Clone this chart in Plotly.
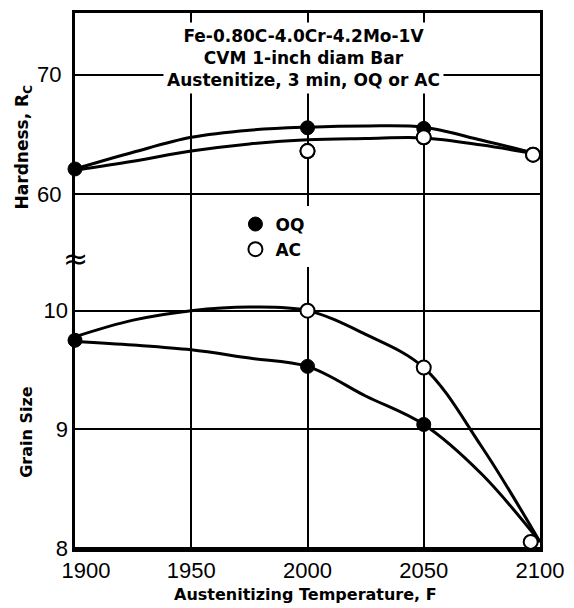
import plotly.graph_objects as go

# ---- data ----
temps_curve = [1900, 1925, 1950, 1975, 2000, 2025, 2050, 2075, 2100]

hard_oq_curve = [62.1, 63.5, 64.75, 65.35, 65.6, 65.7, 65.6, 64.5, 63.3]
hard_ac_curve = [62.0, 62.75, 63.6, 64.2, 64.55, 64.65, 64.7, 64.1, 63.3]
grain_ac_curve = [9.78, 9.92, 10.0, 10.03, 10.0, 9.8, 9.52, 8.85, 8.05]
grain_oq_curve = [9.74, 9.71, 9.67, 9.6, 9.53, 9.28, 9.04, 8.62, 8.05]

oq_temps = [1900, 2000, 2050, 2101]
ac_temps = [1898, 2000, 2050, 2097]
hard_oq = [62.1, 65.55, 65.5, 63.3]
hard_ac = [62.1, 63.6, 64.75, 63.3]
grain_oq_temps = [1900, 2000, 2050, 2101]
grain_ac_temps = [1898, 2000, 2050, 2096]
grain_oq = [9.75, 9.53, 9.04, 8.03]
grain_ac = [9.77, 10.0, 9.52, 8.05]

x_ticks = [1900, 1950, 2000, 2050, 2100]
x_ticktext = ["\u2002\u20021900", "1950", "2000", "2050", "2100"]
hard_ticks = [60, 70]
grain_ticks = [8, 9, 10]

title_lines = ["Fe-0.80C-4.0Cr-4.2Mo-1V", "CVM 1-inch diam Bar", "Austenitize, 3 min, OQ or AC"]

BOLD = dict(family="DejaVu Sans", size=16, color="black", weight="bold")
line_style = dict(color="black", width=3)

fig = go.Figure()

# fitted curves
fig.add_trace(go.Scatter(x=temps_curve, y=hard_oq_curve, mode="lines", line=dict(**line_style, shape="spline"),
                         showlegend=False, yaxis="y"))
fig.add_trace(go.Scatter(x=temps_curve, y=hard_ac_curve, mode="lines", line=dict(**line_style, shape="spline"),
                         showlegend=False, yaxis="y"))
fig.add_trace(go.Scatter(x=temps_curve, y=grain_ac_curve, mode="lines", line=dict(**line_style, shape="spline"),
                         showlegend=False, yaxis="y2"))
fig.add_trace(go.Scatter(x=temps_curve, y=grain_oq_curve, mode="lines", line=dict(**line_style, shape="spline"),
                         showlegend=False, yaxis="y2"))

open_marker = dict(symbol="circle", size=14, color="white", line=dict(color="black", width=2))
filled_marker = dict(symbol="circle", size=14, color="black", line=dict(color="black", width=1))

# data points (AC first so OQ sits on top)
fig.add_trace(go.Scatter(x=ac_temps, y=hard_ac, mode="markers", marker=open_marker, showlegend=False,
                         yaxis="y", cliponaxis=False))
fig.add_trace(go.Scatter(x=grain_ac_temps, y=grain_ac, mode="markers", marker=open_marker, showlegend=False,
                         yaxis="y2", cliponaxis=False))
fig.add_trace(go.Scatter(x=oq_temps, y=hard_oq, mode="markers", marker=filled_marker, name="OQ",
                         yaxis="y", cliponaxis=False))
fig.add_trace(go.Scatter(x=grain_oq_temps, y=grain_oq, mode="markers", marker=filled_marker, showlegend=False,
                         yaxis="y2", cliponaxis=False))
# legend entry for AC (same data as AC hardness points)
fig.add_trace(go.Scatter(x=ac_temps, y=hard_ac, mode="markers", marker=open_marker, name="AC",
                         yaxis="y", cliponaxis=False))

fig.update_layout(
    width=574, height=608,
    margin=dict(l=75, r=21, t=10, b=59),
    paper_bgcolor="white", plot_bgcolor="white",
    font=dict(family="Liberation Sans", size=22, color="black"),
    showlegend=True,
    legend=dict(x=0.345, y=0.639, xanchor="left", yanchor="top", bgcolor="white",
                font=dict(family="DejaVu Sans", size=17, color="black", weight="bold"),
                tracegroupgap=0, itemwidth=30),
    xaxis=dict(range=[1900, 2100], tickvals=x_ticks, ticktext=x_ticktext, showgrid=True,
               gridcolor="black", gridwidth=2, showline=True, linecolor="black", linewidth=3,
               mirror=True, ticks="", zeroline=False, ticklabeloverflow="allow"),
    yaxis=dict(range=[30.25, 75.17], tickvals=hard_ticks, showgrid=True, gridcolor="black",
               gridwidth=2, showline=True, linecolor="black", linewidth=3, mirror=True,
               ticks="", zeroline=False, ticklabelstandoff=6),
    yaxis2=dict(range=[7.99, 12.51], tickvals=grain_ticks, overlaying="y", side="left",
                showgrid=True, gridcolor="black", gridwidth=2, showline=False,
                ticks="", zeroline=False, ticklabelstandoff=6),
)

fig.add_annotation(text="<br>".join(title_lines), xref="paper", yref="paper",
                   x=0.4916, y=0.9165, xanchor="center", yanchor="middle", showarrow=False,
                   font=dict(BOLD, size=17), bgcolor="white", borderpad=3, align="center")
fig.add_annotation(text="Hardness, R<sub>C</sub>", xref="paper", yref="paper", x=-0.111, y=0.75,
                   textangle=-90, showarrow=False, font=dict(BOLD, size=17), xanchor="center", yanchor="middle")
fig.add_annotation(text="Grain Size", xref="paper", yref="paper", x=-0.105, y=0.219,
                   textangle=-90, showarrow=False, font=BOLD, xanchor="center", yanchor="middle")
fig.add_annotation(text="Austenitizing Temperature, F", xref="paper", yref="paper", x=0.496, y=-0.0853,
                   showarrow=False, font=BOLD, xanchor="center", yanchor="middle")
fig.add_annotation(text="≈", xref="paper", yref="paper", x=0.0, y=0.5417, showarrow=False,
                   font=dict(family="DejaVu Sans", size=30, color="black"), xanchor="center", yanchor="middle")

fig.write_html("out.html", config={"displayModeBar": False},
               post_script="document.body.style.margin='0px';document.body.style.padding='0px';")
